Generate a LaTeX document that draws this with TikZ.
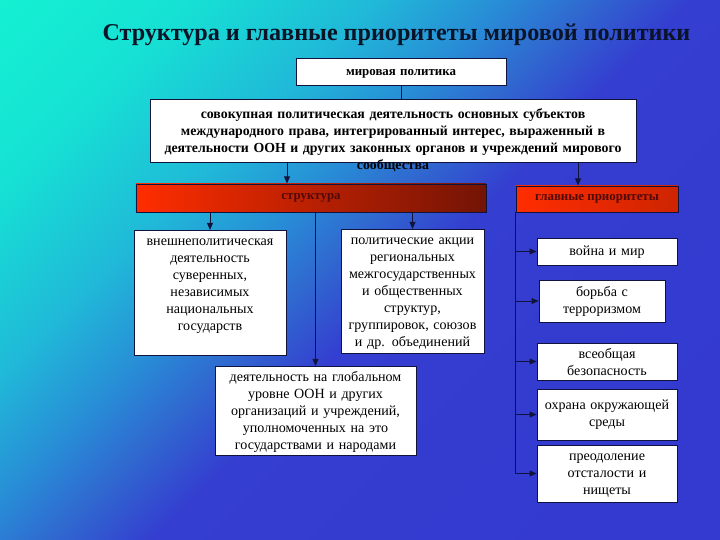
\documentclass[tikz,border=0pt]{standalone}
\usepackage{fontspec}
\setmainfont{Liberation Serif}
\usetikzlibrary{arrows.meta,positioning,calc,shadings}
\definecolor{bgCyan}{RGB}{20,240,210}
\definecolor{bgA}{RGB}{22,225,212}
\definecolor{bgB}{RGB}{32,184,216}
\definecolor{bgC}{RGB}{40,140,214}
\definecolor{bgD}{RGB}{48,104,208}
\definecolor{bgE}{RGB}{52,62,208}
\definecolor{bgBlue}{RGB}{52,54,208}
\definecolor{lineNavy}{RGB}{16,20,60}
\definecolor{titleInk}{RGB}{10,20,40}
\definecolor{barRed}{RGB}{255,45,0}
\definecolor{barDark}{RGB}{115,20,5}
\definecolor{barInk}{RGB}{80,10,10}
\pgfdeclarehorizontalshading{slidebg}{100bp}{color(0bp)=(bgCyan); color(14.6bp)=(bgCyan);
  color(25.2bp)=(bgA); color(35.8bp)=(bgB); color(42.9bp)=(bgC); color(47.8bp)=(bgD);
  color(53.5bp)=(bgE); color(100bp)=(bgBlue)}
\tikzset{
  wbox/.style={rectangle, draw=lineNavy, fill=white, line width=0.6pt,
               align=center, font=\fontsize{12}{14.5}\selectfont,
               inner xsep=3pt, inner ysep=4pt, text height=9pt},
  hbox/.style={wbox, font=\fontsize{11.8}{14.5}\selectfont\bfseries},
  bar/.style={rectangle, draw=lineNavy, line width=0.8pt,
              left color=barRed, right color=#1,
              font=\fontsize{11}{13}\selectfont\bfseries, text=barInk},
  arr/.style={-{Triangle[length=6pt,width=5pt]}, line width=0.7pt, draw=lineNavy},
  ln/.style={line width=0.7pt, draw=lineNavy},
}
\begin{document}
\begin{tikzpicture}[x=0.03cm, y=-0.03cm]
        % background
        \shade[shading=slidebg, shading angle=-45] (0,0) rectangle (720,540);
        \useasboundingbox (0,0) rectangle (720,540);

        \node[font=\fontsize{20.6}{25}\selectfont\bfseries, text=titleInk] (title) at (396.5,35)
              {Структура и главные приоритеты мировой политики};

        \node[hbox, font=\fontsize{11}{13}\selectfont\bfseries, text width=6.09cm,
              minimum height=0.81cm] (world) at (401,71.5) {мировая политика};
        \node[hbox, text width=14.37cm, text height=12.5pt, text depth=33pt, anchor=north] (total) at (393,99)
              {совокупная политическая деятельность основных субъектов\\
               международного права, интегрированный интерес, выраженный в\\
               деятельности ООН и других законных органов и учреждений мирового\\
               сообщества};

        \node[bar=barDark, minimum width=10.5cm, minimum height=0.84cm] (struct) at (311,198) {структура};
        \node[bar=barRed!65!barDark, minimum width=4.86cm, minimum height=0.78cm] (prio) at (597,199)
              {главные приоритеты};

        % structure
        \node[wbox, text width=4.35cm, text depth=90pt, anchor=north] (foreign) at (210,230)
              {внешнеполитическая\\ деятельность\\ суверенных,\\ независимых\\ национальных\\ государств};
        \node[wbox, text width=4.08cm, text depth=89pt, anchor=north] (actions) at (412.5,229)
              {политические акции\\ региональных\\ межгосударственных\\ и общественных\\ структур,\\
               группировок, союзов\\ и др. объединений};
        \node[wbox, text width=5.82cm, text depth=58.6pt, anchor=north] (global) at (315.5,366)
              {деятельность на глобальном\\ уровне ООН и других\\ организаций и учреждений,\\
               уполномоченных на это\\ государствами и народами};

        % priorities
        \node[wbox, text width=3.99cm, minimum height=0.81cm] (war) at (607,251.5) {война и мир};
        \node[wbox, text width=3.57cm, minimum height=1.26cm] (terror) at (602,301) {борьба с\\ терроризмом};
        \node[wbox, text width=3.99cm, minimum height=1.11cm] (safety) at (607,361.5) {всеобщая\\ безопасность};
        \node[wbox, text width=3.99cm, minimum height=1.53cm] (nature) at (607,414.5) {охрана окружающей\\ среды};
        \node[wbox, text width=3.99cm, minimum height=1.59cm] (poverty) at (607,473.5)
              {преодоление\\ отсталости и\\ нищеты};

        \coordinate (s1) at ([xshift=-0.72cm]struct.north);
        \coordinate (p1) at ([xshift=-0.57cm]prio.north);
        \draw[ln] (world) -- (world |- total.north);
        \draw[arr] (s1 |- total.south) -- (s1);
        \draw[arr] (p1 |- total.south) -- (p1);
        \draw[arr] (foreign.north |- struct.south) -- (foreign.north);
        \draw[arr] (actions.north |- struct.south) -- (actions.north);
        \draw[arr] (global.north |- struct.south) -- (global.north);
        \foreach \target in {war,terror,safety,nature,poverty}
          \draw[arr] (prio.south west) |- (\target.west);
      \end{tikzpicture}
\end{document}
